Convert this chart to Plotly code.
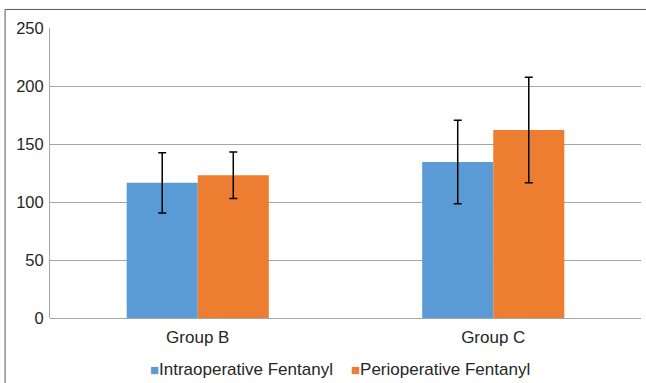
import plotly.graph_objects as go

categories = ["Group B", "Group C"]
intra_values = [116.5, 134.5]
intra_err = [26, 36]
peri_values = [123, 162]
peri_err = [20, 45.5]
series_names = ["Intraoperative Fentanyl", "Perioperative Fentanyl"]
series_colors = ["#5B9BD5", "#ED7D31"]
y_ticks = [0, 50, 100, 150, 200, 250]

FAMILY = "Liberation Sans, Arial, sans-serif"
font = dict(family=FAMILY, size=17, color="#262626")

fig = go.Figure()
fig.add_trace(go.Bar(
    x=categories, y=intra_values, name=series_names[0],
    marker=dict(color=series_colors[0], line=dict(width=0)),
    error_y=dict(type="data", array=intra_err, color="#000000", thickness=1.5, width=4),
))
fig.add_trace(go.Bar(
    x=categories, y=peri_values, name=series_names[1],
    marker=dict(color=series_colors[1], line=dict(width=0)),
    error_y=dict(type="data", array=peri_err, color="#000000", thickness=1.5, width=4),
))

legend_x = [0.166, 0.506]
annotations = []
for name, color, lx in zip(series_names, series_colors, legend_x):
    annotations.append(dict(
        xref="paper", yref="paper", x=lx, y=-0.179, xanchor="left", yanchor="middle",
        showarrow=False,
        text=f'<span style="color:{color};font-size:15px">■</span>{name}',
        font=dict(family=FAMILY, size=17, color="#262626"),
    ))

fig.update_layout(
    width=646, height=383,
    margin=dict(l=50, r=5, t=28, b=65, autoexpand=False),
    paper_bgcolor="white", plot_bgcolor="white",
    barmode="group", bargap=0.519, bargroupgap=0,
    font=font,
    showlegend=False,
    annotations=annotations,
    xaxis=dict(showgrid=False, showline=False, ticks="", automargin=False,
               tickfont=dict(size=17), ticklabelstandoff=7),
    yaxis=dict(range=[0, 250], tickvals=y_ticks, showgrid=True, gridcolor="#A6A6A6",
               gridwidth=1, showline=True, linecolor="#A6A6A6", linewidth=1,
               zeroline=True, zerolinecolor="#A6A6A6", zerolinewidth=1, automargin=False,
               ticks="", ticklabelstandoff=2, tickfont=dict(size=16.5)),
    shapes=[dict(type="rect", xref="paper", yref="paper",
                 x0=-0.076, x1=1.02, y0=-0.3, y1=1.064,
                 line=dict(color="#595959", width=1), fillcolor="rgba(0,0,0,0)", layer="above")],
)

fig.write_html("out.html", config={"displayModeBar": False},
               post_script="document.body.style.margin='0';document.body.style.overflow='hidden';")
